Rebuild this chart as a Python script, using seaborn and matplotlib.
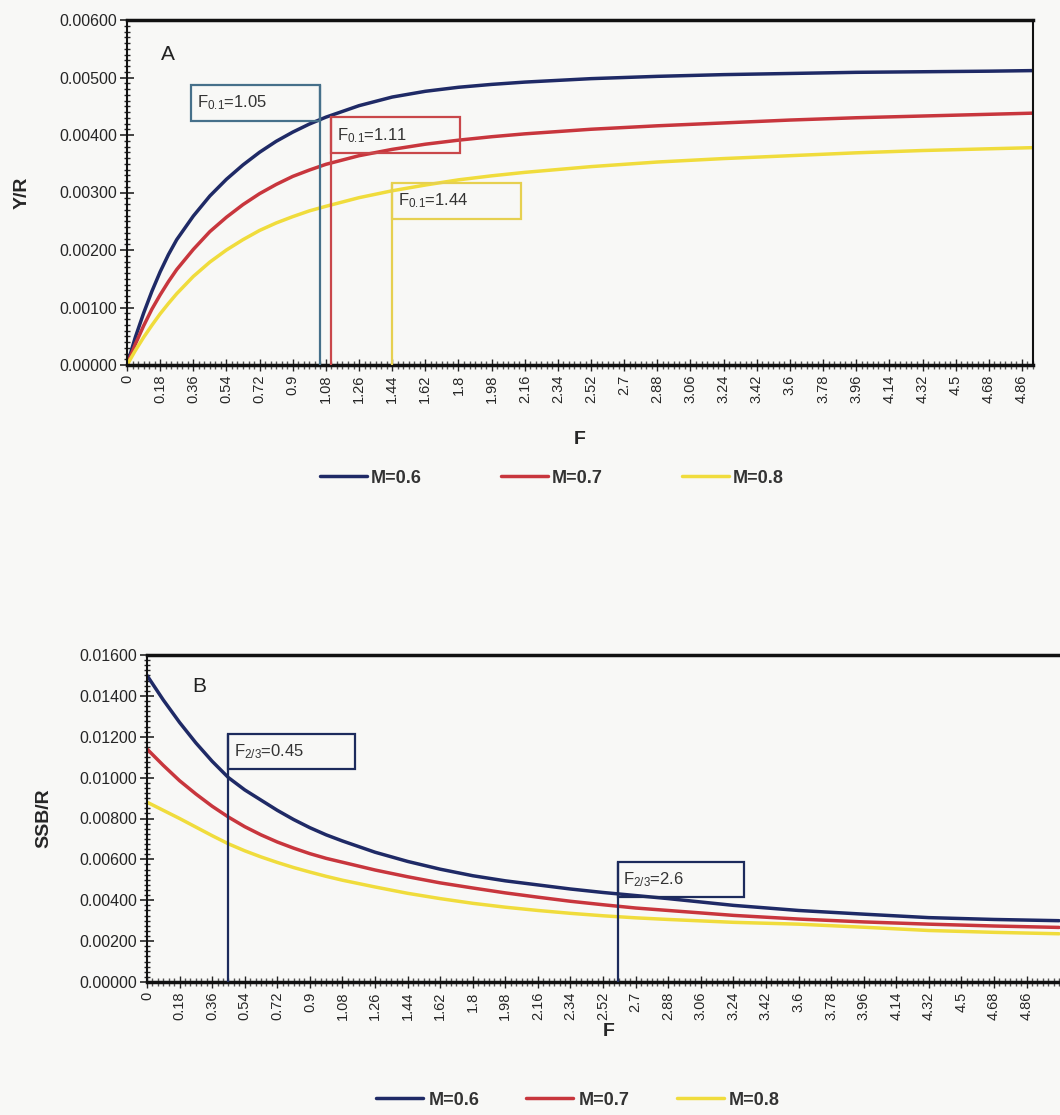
import pandas as pd
import matplotlib
matplotlib.use('Agg')
import matplotlib.pyplot as plt
from matplotlib.patches import Rectangle
from matplotlib.ticker import MultipleLocator, FormatStrFormatter
import seaborn as sns

# ---- data ----
series_names = ['M=0.6', 'M=0.7', 'M=0.8']

# panel A: yield per recruit
f_yr = [0, 0.045, 0.09, 0.135, 0.18, 0.225, 0.27, 0.36, 0.45, 0.54, 0.63, 0.72, 0.81,
        0.9, 0.99, 1.08, 1.26, 1.44, 1.62, 1.8, 1.98, 2.16, 2.52, 2.88, 3.24, 3.6,
        3.96, 4.32, 4.68, 4.92]
yr_m06 = [0, 0.00048, 0.00090, 0.00128, 0.00162, 0.00192, 0.00218, 0.00259, 0.00294,
          0.00323, 0.00348, 0.00370, 0.00389, 0.00405, 0.00419, 0.00431, 0.00451,
          0.00466, 0.00476, 0.00483, 0.00488, 0.00492, 0.00498, 0.00502, 0.00505,
          0.00507, 0.00509, 0.00510, 0.00511, 0.00512]
yr_m07 = [0, 0.00036, 0.00068, 0.00097, 0.00122, 0.00145, 0.00166, 0.00201, 0.00232,
          0.00257, 0.00279, 0.00298, 0.00314, 0.00328, 0.00339, 0.00349, 0.00364,
          0.00375, 0.00384, 0.00391, 0.00397, 0.00402, 0.00410, 0.00416, 0.00421,
          0.00426, 0.00430, 0.00433, 0.00436, 0.00438]
yr_m08 = [0, 0.00025, 0.00048, 0.00069, 0.00089, 0.00107, 0.00124, 0.00154, 0.00179,
          0.00200, 0.00218, 0.00234, 0.00247, 0.00258, 0.00268, 0.00276, 0.00291,
          0.00303, 0.00313, 0.00322, 0.00329, 0.00335, 0.00345, 0.00353, 0.00359,
          0.00364, 0.00369, 0.00373, 0.00376, 0.00378]

# panel B: spawning stock biomass per recruit
f_ssb = [0, 0.09, 0.18, 0.27, 0.36, 0.45, 0.54, 0.63, 0.72, 0.81, 0.9, 0.99, 1.08,
         1.26, 1.44, 1.62, 1.8, 1.98, 2.16, 2.34, 2.52, 2.7, 2.88, 3.24, 3.6, 3.96,
         4.32, 4.68, 5.04]
ssb_m06 = [0.01500, 0.01380, 0.01270, 0.01170, 0.01080, 0.01000, 0.00940, 0.00890,
           0.00840, 0.00795, 0.00755, 0.00720, 0.00690, 0.00635, 0.00590, 0.00552,
           0.00520, 0.00495, 0.00475, 0.00455, 0.00438, 0.00423, 0.00408, 0.00375,
           0.00350, 0.00332, 0.00315, 0.00306, 0.00300]
ssb_m07 = [0.01140, 0.01060, 0.00985, 0.00920, 0.00860, 0.00807, 0.00760, 0.00720,
           0.00685, 0.00655, 0.00628, 0.00605, 0.00586, 0.00548, 0.00515, 0.00485,
           0.00460, 0.00436, 0.00415, 0.00395, 0.00378, 0.00362, 0.00350, 0.00326,
           0.00308, 0.00294, 0.00283, 0.00274, 0.00267]
ssb_m08 = [0.00880, 0.00840, 0.00800, 0.00758, 0.00716, 0.00676, 0.00642, 0.00612,
           0.00585, 0.00560, 0.00538, 0.00517, 0.00498, 0.00465, 0.00434, 0.00408,
           0.00385, 0.00366, 0.00350, 0.00336, 0.00324, 0.00314, 0.00306, 0.00292,
           0.00283, 0.00268, 0.00252, 0.00243, 0.00236]

# reference points
f01_values = [1.05, 1.11, 1.44]
f23_values = [0.45, 2.6]

x_tick_labels = ['0', '0.18', '0.36', '0.54', '0.72', '0.9', '1.08', '1.26', '1.44',
                 '1.62', '1.8', '1.98', '2.16', '2.34', '2.52', '2.7', '2.88', '3.06',
                 '3.24', '3.42', '3.6', '3.78', '3.96', '4.14', '4.32', '4.5', '4.68',
                 '4.86']

line_colors = ['#1f2a66', '#c8363d', '#f0dc3c']
box_colors_a = ['#46708a', '#c9474a', '#e6d050']
box_color_b = '#1d2b5c'
bg = '#f8f8f6'

sns.set_style('white')
plt.rcParams['font.family'] = ['Liberation Sans', 'DejaVu Sans']
plt.rcParams['mathtext.default'] = 'regular'


def long_frame(f, cols):
    parts = []
    for name, vals in zip(series_names, cols):
        parts.append(pd.DataFrame({'F': f, 'value': vals, 'M': name}))
    return pd.concat(parts, ignore_index=True)


def style_axis(ax, xmax, ymax, ystep, yminor):
    ax.set_facecolor(bg)
    ax.set_xlim(0, xmax)
    ax.set_ylim(0, ymax)
    ticks = [float(s) for s in x_tick_labels]
    ax.set_xticks(ticks)
    ax.set_xticklabels(x_tick_labels, rotation=90, fontsize=10.5)
    ax.xaxis.set_minor_locator(MultipleLocator(0.03))
    ax.yaxis.set_major_locator(MultipleLocator(ystep))
    ax.yaxis.set_minor_locator(MultipleLocator(yminor))
    ax.yaxis.set_major_formatter(FormatStrFormatter('%.5f'))
    ax.tick_params(axis='y', which='major', direction='inout', length=10, width=1.2,
                   labelsize=11.5, pad=2, left=True)
    ax.tick_params(axis='y', which='minor', direction='inout', length=5, width=1, left=True)
    ax.tick_params(axis='x', which='major', direction='inout', length=8, width=1,
                   labelsize=10.5, pad=3, bottom=True)
    ax.tick_params(axis='x', which='minor', direction='inout', length=6, width=1,
                   color='#555555', bottom=True)
    for sp in ax.spines.values():
        sp.set_color('#111111')
        sp.set_linewidth(1.5)
    ax.spines['top'].set_linewidth(2.5)
    ax.spines['bottom'].set_linewidth(2.5)


fig = plt.figure(figsize=(10.6, 11.15), dpi=100)
fig.patch.set_facecolor(bg)

# ---------------- panel A ----------------
ax1 = fig.add_axes([127 / 1060, 1 - 365 / 1115, 906 / 1060, 345 / 1115])
df_yr = long_frame(f_yr, [yr_m06, yr_m07, yr_m08])
sns.lineplot(data=df_yr, x='F', y='value', hue='M', palette=line_colors,
             linewidth=2.5, ax=ax1)
style_axis(ax1, 4.92, 0.006, 0.001, 0.0001)

box_w, box_h = 0.70, 0.00063
box_bottoms = [0.00424, 0.00368, 0.00254]
for i, (fv, yb) in enumerate(zip(f01_values, box_bottoms)):
    x0 = fv - box_w if i == 0 else fv
    ax1.add_patch(Rectangle((x0, yb), box_w, box_h, fill=False,
                            edgecolor=box_colors_a[i], linewidth=1.6, zorder=4))
    ax1.vlines(fv, 0, yb + box_h, color=box_colors_a[i], linewidth=1.6, zorder=4)
    ax1.text(x0 + 0.03, yb + box_h / 2, 'F$_{0.1}$=%g' % fv, fontsize=12,
             color='#333333', va='center', ha='left', zorder=5)

ax1.text(0.045, 0.90, 'A', transform=ax1.transAxes, fontsize=15, color='#222222',
         ha='center', va='center')
ax1.set_xlabel('F', fontsize=14, fontweight='bold')
ax1.xaxis.set_label_coords(0.5, -0.19)
ax1.set_ylabel('Y/R', fontsize=14, fontweight='bold')
ax1.yaxis.set_label_coords(-0.106, 0.5)
sns.move_legend(ax1, 'center', bbox_to_anchor=(0.469, -0.328), ncol=3, title=None,
                frameon=False, fontsize=13, handlelength=2.6, handletextpad=0.2,
                columnspacing=4.4)
for t in ax1.get_legend().get_texts():
    t.set_fontweight('bold')
    t.set_color('#333333')

# ---------------- panel B ----------------
ax2 = fig.add_axes([147 / 1060, 1 - 982 / 1115, 923 / 1060, 327 / 1115])
df_ssb = long_frame(f_ssb, [ssb_m06, ssb_m07, ssb_m08])
sns.lineplot(data=df_ssb, x='F', y='value', hue='M', palette=line_colors,
             linewidth=2.5, ax=ax2)
style_axis(ax2, 5.1, 0.016, 0.002, 0.00025)

box_h2 = 0.00172
box_bottoms_b = [0.01041, 0.00415]
for fv, yb in zip(f23_values, box_bottoms_b):
    ax2.add_patch(Rectangle((fv, yb), box_w, box_h2, fill=False,
                            edgecolor=box_color_b, linewidth=1.6, zorder=4))
    ax2.vlines(fv, 0, yb + box_h2, color=box_color_b, linewidth=1.6, zorder=4)
    ax2.text(fv + 0.03, yb + box_h2 / 2, 'F$_{2/3}$=%g' % fv, fontsize=12,
             color='#333333', va='center', ha='left', zorder=5)

ax2.text(0.057, 0.905, 'B', transform=ax2.transAxes, fontsize=15, color='#222222',
         ha='center', va='center')
ax2.set_xlabel('F', fontsize=14, fontweight='bold')
ax2.xaxis.set_label_coords(0.5, -0.125)
ax2.set_ylabel('SSB/R', fontsize=14, fontweight='bold')
ax2.yaxis.set_label_coords(-0.103, 0.5)
sns.move_legend(ax2, 'center', bbox_to_anchor=(0.467, -0.361), ncol=3, title=None,
                frameon=False, fontsize=13, handlelength=2.6, handletextpad=0.3,
                columnspacing=2.6)
for t in ax2.get_legend().get_texts():
    t.set_fontweight('bold')
    t.set_color('#333333')

fig.savefig('out.png', dpi=100, facecolor=bg)
